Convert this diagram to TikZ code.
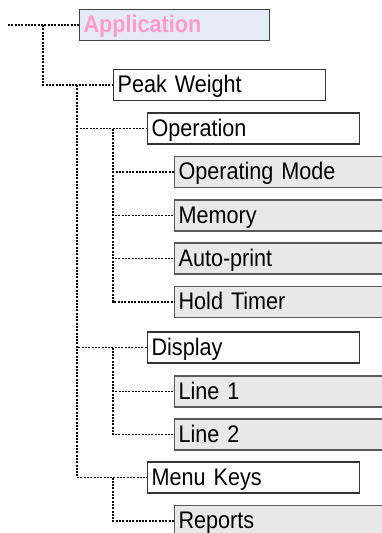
\documentclass[tikz,border=0pt]{standalone}
\usepackage{fontspec}
\setmainfont{Liberation Sans}[FakeStretch=0.9]
\usetikzlibrary{positioning}

\definecolor{appfill}{HTML}{E4EBF6}
\definecolor{apptext}{HTML}{FF99CC}
\definecolor{leaffill}{HTML}{E8E8E8}

\tikzset{
  box/.style={draw, line width=1.2pt, anchor=west, minimum height=31pt,
    inner xsep=4pt, inner ysep=0pt, text height=19pt, text depth=4pt,
    align=left, font=\fontsize{24}{28}\selectfont},
  appbox/.style={box, draw=black!75, fill=appfill, text=apptext, text width=182pt,
    font=\fontsize{24}{28}\selectfont\bfseries},
  menubox/.style={box, draw=black!80, fill=white, text width=204pt},
  leafbox/.style={box, draw=black!65, fill=leaffill, text width=240pt},
  link/.style={line width=1.3pt, dash pattern=on 2pt off 1.3pt},
}

\begin{document}
\begin{tikzpicture}[x=1pt,y=-1pt]
\clip (0,0) rectangle (382,533);

% menu boxes
\node[appbox]  (app)    at (79,25)    {Application};
\node[menubox] (pw)     at (113,85)   {Peak Weight};
\node[menubox] (op)     at (147,128.5) {Operation};
\node[leafbox] (opmode) at (174,172)  {Operating Mode};
\node[leafbox] (mem)    at (174,215.5) {Memory};
\node[leafbox] (autop)  at (174,258.5) {Auto-print};
\node[leafbox] (hold)   at (174,302)  {Hold Timer};
\node[menubox] (disp)   at (147,347.5) {Display};
\node[leafbox] (lineA)  at (174,391.5) {Line 1};
\node[leafbox] (lineB)  at (174,434.5) {Line 2};
\node[menubox] (mk)     at (147,477.5) {Menu Keys};
\node[leafbox] (rep)    at (174,521)  {Reports};

% links
\coordinate (in) at (8,25);
\draw[link] (in) -- (app.west);
\draw[link] ([xshift=-36pt]app.west) |- (pw.west);
\foreach \c in {op,disp,mk}
  \draw[link] ([xshift=-36pt]pw.west) |- (\c.west);
\foreach \c in {opmode,mem,autop,hold}
  \draw[link] ([xshift=-34pt]op.west) |- (\c.west);
\foreach \c in {lineA,lineB}
  \draw[link] ([xshift=-34pt]disp.west) |- (\c.west);
\draw[link] ([xshift=-34pt]mk.west) |- (rep.west);

\end{tikzpicture}
\end{document}
